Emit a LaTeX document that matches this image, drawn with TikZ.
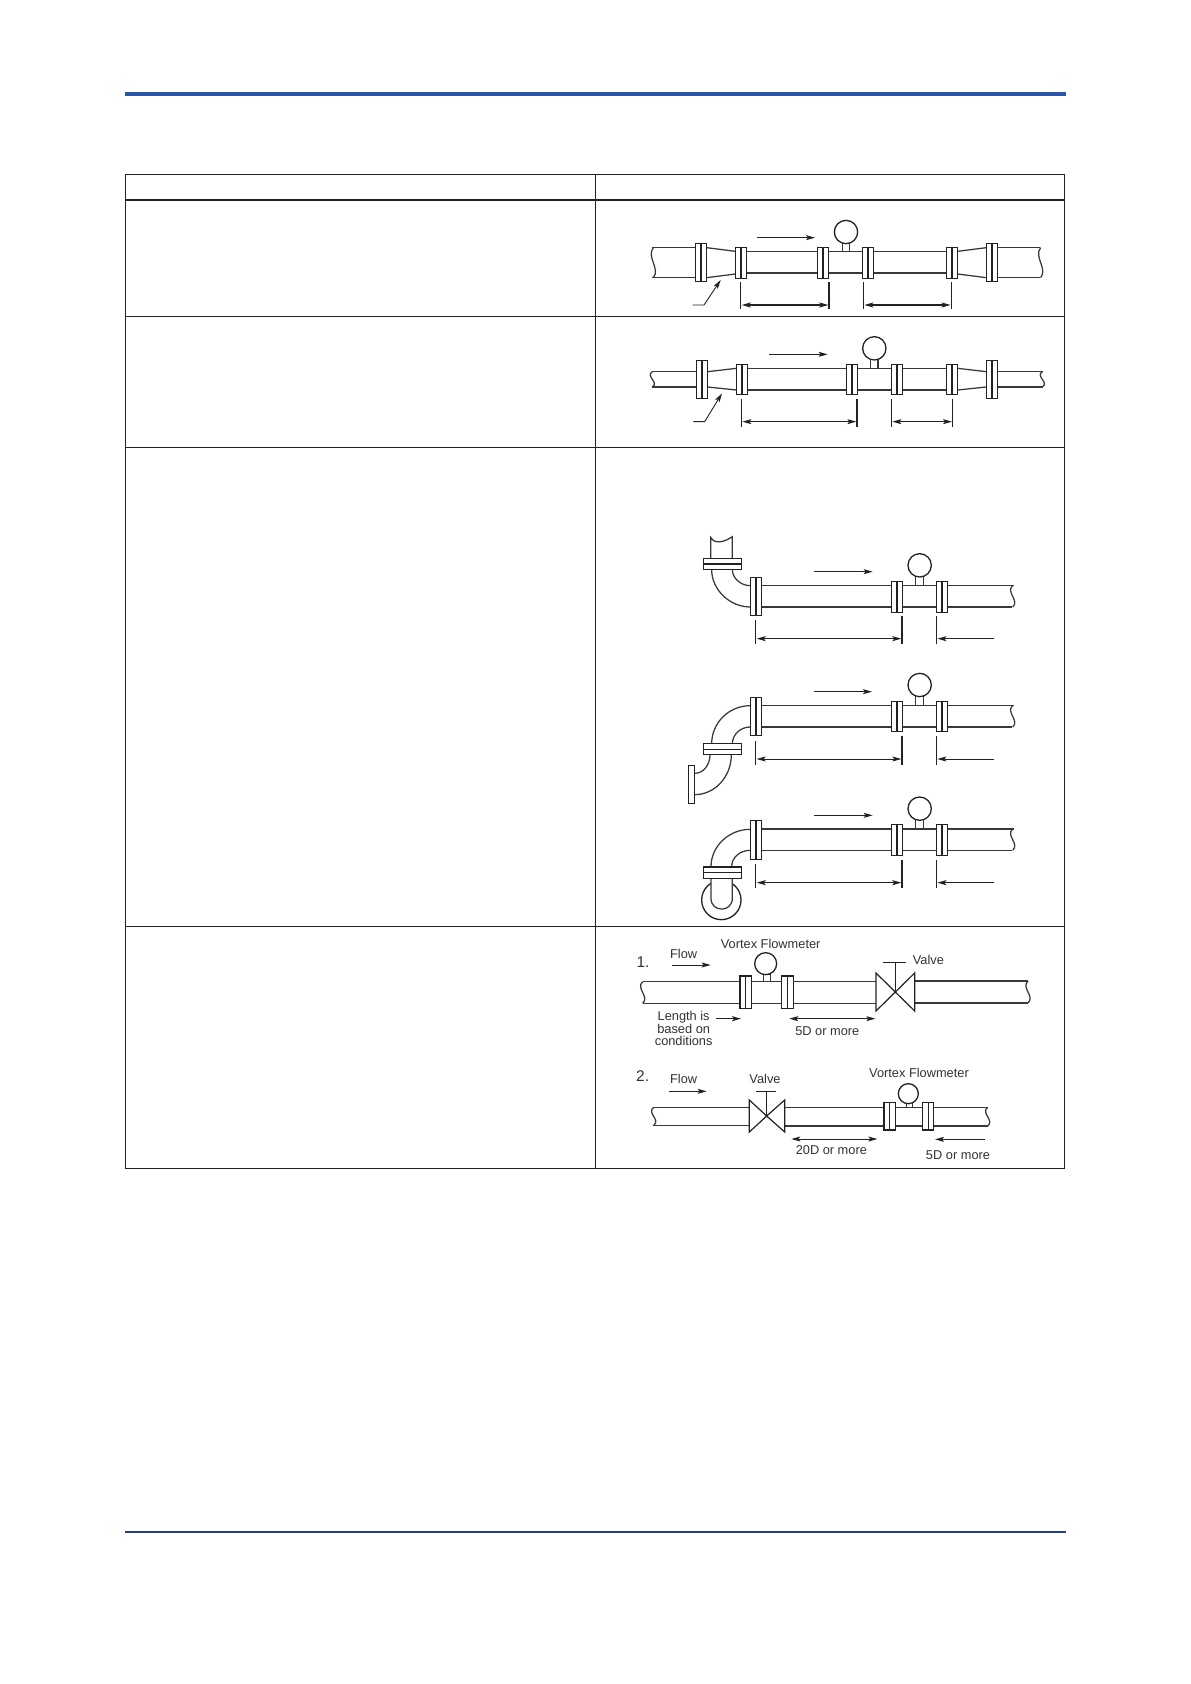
\documentclass[tikz,border=0pt]{standalone}
\usepackage{fontspec}
\setmainfont{Liberation Sans}
\usetikzlibrary{arrows.meta}
\definecolor{ink}{HTML}{222222}
\definecolor{lab}{HTML}{333333}
\definecolor{bluetop}{HTML}{2B55A8}
\definecolor{bluebot}{HTML}{1F3F8C}
\tikzset{
  rule/.style={draw=ink,line width=0.95pt},
  pipe/.style={draw=ink!90,line width=1.25pt},
  thin dim/.style={draw=ink,line width=0.9pt},
  thick dim/.style={draw=ink,line width=1.5pt},
  tip/.style={-{Stealth[length=9pt,width=5pt,inset=2pt]}},
  tips/.style={{Stealth[length=9pt,width=5pt,inset=2pt]}-{Stealth[length=9pt,width=5pt,inset=2pt]}},
  lbl/.style={font=\fontsize{12.8}{12.8}\selectfont,text=lab,inner sep=0pt},
  num/.style={font=\fontsize{15.5}{15.5}\selectfont,text=lab,inner sep=0pt}
}
% vertical flange: x1,y1,x2,y2
\newcommand{\FlV}[4]{\draw[fill=white,draw=ink,line width=1.3pt] (#1,#2) rectangle (#3,#4);
  \draw[ink,line width=1.3pt] ({(#1+#3)/2},#2) -- ({(#1+#3)/2},#4);}
% horizontal flange
\newcommand{\FlH}[4]{\draw[fill=white,draw=ink,line width=1.3pt] (#1,#2) rectangle (#3,#4);
  \draw[ink,line width=1.3pt] (#1,{(#2+#4)/2}) -- (#3,{(#2+#4)/2});}
% wavy pipe end: x,y1,y2
\newcommand{\Wav}[3]{\draw[pipe] (#1,#2) .. controls ({#1-22},{#2+(#3-#2)*0.3}) and ({#1+22},{#2+(#3-#2)*0.7}) .. (#1,#3);}
% meter: cx,cy,r,stem left,stem right,stem top,stem bottom
\newcommand{\Mtr}[7]{\draw[pipe,fill=white] (#4,#6) rectangle (#5,#7);
  \draw[draw=ink,line width=1.3pt,fill=white] (#1,#2) circle[radius=#3];}
\begin{document}
\begin{tikzpicture}[x=1pt,y=-1pt]
\path[use as bounding box,fill=white] (0,0) rectangle (1191,1684);
% page rules
\fill[bluetop] (124.5,92) rectangle (1066,96);
\fill[bluebot] (124.5,1530.5) rectangle (1066,1532.7);
% table
\draw[rule] (125.3,174.3) rectangle (1064.5,1168.3);
\draw[rule] (595.3,174) -- (595.3,1168);
\draw[draw=ink,line width=1.8pt] (125,200) -- (1064.5,200);
\draw[rule] (125,316.3) -- (1064.5,316.3);
\draw[rule] (125,447.3) -- (1064.5,447.3);
\draw[rule] (125,926.3) -- (1064.5,926.3);

% ---- rows 1 and 2
\begin{scope}[shift={(600,170)},scale=1/3]
 \draw[pipe] (155,233) -- (286,233) (155,323) -- (286,323);
 \Wav{160}{233}{323}
 \draw[pipe] (320,233) -- (406,244) (320,323) -- (406,312);
 \draw[pipe] (440,245) -- (1039,245) (440,309) -- (1039,309);
 \draw[pipe] (1073,244) -- (1159,233) (1073,312) -- (1159,323);
 \draw[pipe] (1193,233) -- (1320,233) (1193,323) -- (1320,323);
 \Wav{1322}{233}{323}
 \FlV{286}{221}{320}{334}
 \FlV{406}{232}{440}{325}
 \FlV{652}{232}{686}{325}
 \FlV{787}{232}{821}{325}
 \FlV{1039}{232}{1073}{325}
 \FlV{1159}{221}{1193}{334}
 \Mtr{738}{186}{35}{727}{749}{219}{245}
 \draw[thin dim,tip] (471,203) -- (645,203);
 \draw[thick dim] (422,337) -- (422,418) (687,337) -- (687,418);
 \draw[thin dim] (790,337) -- (790,418) (1055,337) -- (1055,418);
 \draw[thick dim,tips] (425,405) -- (685,405);
 \draw[thick dim,tips] (793,405) -- (1052,405);
 \coordinate (leadA) at (278,405);
 \coordinate (leadB) at (362,330);
 \draw[thin dim,tip] (leadA) -- (312,405) -- (leadB);
 % row 2
 \draw[pipe] (155,605) -- (289,605) (155,651) -- (289,651);
 \Wav{157}{605}{651}
 \draw[pipe] (323,605) -- (409,595) (323,651) -- (409,660);
 \draw[pipe] (443,596) -- (1039,596) (443,660) -- (1039,660);
 \draw[pipe] (1073,595) -- (1159,605) (1073,660) -- (1159,651);
 \draw[pipe] (1193,605) -- (1328,605) (1193,651) -- (1328,651);
 \Wav{1327}{605}{651}
 \FlV{289}{572}{323}{685}
 \FlV{409}{584}{443}{673}
 \FlV{739}{584}{773}{673}
 \FlV{874}{584}{908}{673}
 \FlV{1039}{584}{1073}{673}
 \FlV{1159}{572}{1193}{685}
 \Mtr{823}{535}{35}{812}{834}{568}{596}
 \draw[thin dim,tip] (507,553) -- (683,553);
 \draw[thin dim] (425,686) -- (425,770) (874,686) -- (874,770) (1058,686) -- (1058,770);
 \draw[thick dim] (771,686) -- (771,770);
 \draw[thin dim,tips] (427,755) -- (769,755);
 \draw[thin dim,tips] (877,755) -- (1056,755);
 \coordinate (leadC) at (280,755);
 \coordinate (leadD) at (366,670);
 \draw[thin dim,tip] (leadC) -- (314,755) -- (leadD);
\end{scope}

% ---- row 3
\begin{scope}[shift={(660,520)},scale=1/3]
 % a
 \draw[pipe] (152,115) -- (152,52) .. controls (165,75) and (195,65) .. (217,50) -- (217,115);
 \draw[pipe] (155,149) .. controls (155,210) and (210,261) .. (271,261);
 \draw[pipe] (217,149) .. controls (217,175) and (243,197) .. (271,197);
 \draw[pipe] (305,197) -- (1062,197) (305,261) -- (1056,261);
 \Wav{1058}{197}{261}
 \FlH{130}{115}{245}{149}
 \FlV{271}{172}{305}{287}
 \FlV{694}{185}{728}{277}
 \FlV{829}{185}{863}{277}
 \Mtr{779}{136}{35}{767}{791}{168}{197}
 \draw[thin dim,tip] (462,155) -- (638,155);
 \draw[thick dim] (287,301) -- (287,371) (726,288) -- (726,371);
 \draw[thin dim] (829,288) -- (829,371);
 \draw[thick dim,tips] (290,356) -- (724,356);
 \draw[thick dim,tip] (1002,356) -- (832,356);
 % b
 \draw[pipe] (271,557) .. controls (205,557) and (155,610) .. (155,671);
 \draw[pipe] (271,621) .. controls (240,621) and (217,645) .. (217,671);
 \draw[pipe] (150,704) .. controls (150,735) and (130,760) .. (104,760);
 \draw[pipe] (214,704) .. controls (214,770) and (165,824) .. (104,824);
 \draw[pipe] (305,557) -- (1062,557) (305,621) -- (1056,621);
 \Wav{1058}{557}{621}
 \FlH{130}{671}{245}{704}
 \draw[fill=white,draw=ink,line width=1.4pt] (85,736) rectangle (104,850);
 \FlV{271}{532}{305}{647}
 \FlV{694}{545}{728}{635}
 \FlV{829}{545}{863}{635}
 \Mtr{779}{495}{35}{767}{791}{527}{557}
 \draw[thick dim,tip] (462,515) -- (636,515);
 \draw[thick dim] (287,664) -- (287,734) (726,648) -- (726,734);
 \draw[thin dim] (829,648) -- (829,734);
 \draw[thin dim,tips] (290,717) -- (724,717);
 \draw[thin dim,tip] (1002,717) -- (832,717);
 % c
 \draw[draw=ink,line width=1.3pt] (184,1140) circle[radius=59];
 \draw[pipe,fill=white] (153,1076) -- (153,1135) .. controls (153,1178) and (217,1178) .. (217,1135) -- (217,1076);
 \draw[pipe] (271,928) .. controls (205,928) and (153,980) .. (153,1040);
 \draw[pipe] (271,991) .. controls (240,991) and (215,1012) .. (215,1040);
 \draw[pipe] (305,927) -- (1062,927) (305,991) -- (1056,991);
 \Wav{1058}{927}{991}
 \FlH{130}{1041}{245}{1076}
 \FlV{271}{901}{305}{1018}
 \FlV{694}{914}{728}{1006}
 \FlV{829}{914}{863}{1006}
 \Mtr{779}{866}{35}{767}{791}{898}{927}
 \draw[thin dim,tip] (462,886) -- (638,886);
 \draw[thick dim] (287,1033) -- (287,1103) (726,1020) -- (726,1103);
 \draw[thin dim] (829,1020) -- (829,1103);
 \draw[thick dim,tips] (290,1088) -- (724,1088);
 \draw[thick dim,tip] (1002,1088) -- (832,1088);
\end{scope}

% ---- row 4
\begin{scope}[shift={(620,930)},scale=1/3]
 \draw[pipe] (70,155) -- (360,155) (70,220) -- (360,220);
 \Wav{68}{155}{220}
 \draw[pipe] (394,155) -- (485,155) (394,220) -- (485,220);
 \draw[pipe] (520,155) -- (768,155) (520,220) -- (768,220);
 \draw[pipe] (884,153) -- (1225,153) (884,219) -- (1225,219);
 \Wav{1224}{153}{219}
 \FlV{360}{138}{394}{235}
 \FlV{485}{138}{520}{235}
 \Mtr{437}{101}{33}{431}{452}{133}{155}
 \draw[draw=ink,line width=1.2pt,fill=white] (768,129) -- (826,186) -- (768,243) -- cycle;
 \draw[draw=ink,line width=1.2pt,fill=white] (884,129) -- (826,186) -- (884,243) -- cycle;
 \draw[thin dim] (826,186) -- (826,97);
 \draw[thin dim] (790,97) -- (858,97);
 \fill[ink] (826,186) circle[radius=4];
 \node[num] (n1) at (69,95) {1.};
 \node[lbl] (f1) at (191,72) {Flow};
 \node[lbl] (v1) at (452,42) {Vortex Flowmeter};
 \node[lbl] (va1) at (925,90) {Valve};
 \draw[thin dim,tip] (157,105) -- (272,105);
 \node[lbl] (len1) at (191,261) {Length is};
 \node[lbl] (len2) at (191,297) {based on};
 \node[lbl] (len3) at (191,332) {conditions};
 \draw[thick dim,tip] (288,266) -- (363,266);
 \draw[thin dim,tips] (508,266) -- (766,266);
 \node[lbl] (d1) at (622,303) {5D or more};
 % 2
 \draw[pipe] (100,532) -- (388,532) (100,586) -- (388,586);
 \Wav{101}{532}{586}
 \draw[pipe] (494,532) -- (792,532) (494,588) -- (792,588);
 \draw[pipe] (826,532) -- (908,532) (826,588) -- (908,588);
 \draw[pipe] (941,532) -- (1103,532) (941,588) -- (1103,588);
 \Wav{1103}{532}{588}
 \FlV{792}{518}{826}{600}
 \FlV{908}{518}{941}{600}
 \Mtr{865}{491}{30}{859}{878}{516}{532}
 \draw[draw=ink,line width=1.2pt,fill=white] (388,510) -- (440,558) -- (388,606) -- cycle;
 \draw[draw=ink,line width=1.2pt,fill=white] (494,510) -- (440,558) -- (494,606) -- cycle;
 \draw[thin dim] (440,558) -- (440,483);
 \draw[thin dim] (407,483) -- (468,483);
 \fill[ink] (440,558) circle[radius=4];
 \node[num] (n2) at (68,438) {2.};
 \node[lbl] (f2) at (191,447) {Flow};
 \node[lbl] (va2) at (435,447) {Valve};
 \node[lbl] (v2) at (897,428) {Vortex Flowmeter};
 \draw[thin dim,tip] (147,484) -- (260,484);
 \draw[thin dim,tips] (514,627) -- (772,627);
 \node[lbl] (d2) at (634,659) {20D or more};
 \draw[thin dim,tip] (1094,628) -- (945,628);
 \node[lbl] (d3) at (1014,675) {5D or more};
\end{scope}
\end{tikzpicture}
\end{document}
